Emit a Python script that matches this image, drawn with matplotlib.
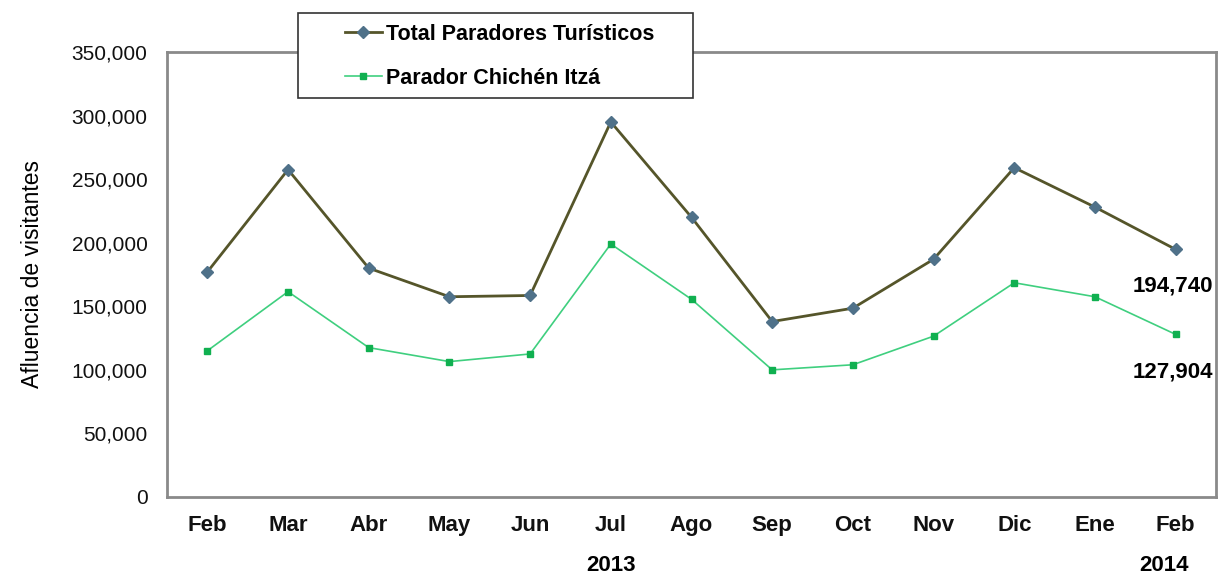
import numpy as np
import matplotlib.pyplot as plt
from matplotlib.patches import Rectangle
from matplotlib.ticker import FuncFormatter

months = ["Feb", "Mar", "Abr", "May", "Jun", "Jul", "Ago", "Sep", "Oct", "Nov", "Dic", "Ene", "Feb"]
total_paradores = [177000, 257500, 180000, 157500, 158500, 295000, 220000, 138000, 148500, 187000, 259000, 228000, 194740]
chichen_itza = [115000, 161500, 117500, 106500, 112500, 199000, 155500, 100000, 104000, 126500, 168500, 157500, 127904]

plt.rcParams["font.family"] = ["Liberation Sans", "DejaVu Sans"]

W, H = 1220, 576
fig = plt.figure(figsize=(W / 100, H / 100), dpi=100)
ax = fig.add_axes([167 / W, 1 - 497 / H, (1216 - 167) / W, (497 - 52) / H])

x = np.arange(len(months))
ax.plot(x, total_paradores, color="#55552a", lw=2, marker="D", ms=6,
        mfc="#4f7189", mec="#4f7189", label="Total Paradores Turísticos")
ax.plot(x, chichen_itza, color="#3fcf7f", lw=1.2, marker="s", ms=5,
        mfc="#10b050", mec="#10b050", label="Parador Chichén Itzá")

ax.set_xlim(-0.5, len(months) - 0.5)
ax.set_ylim(0, 350000)
ax.set_yticks(np.arange(0, 350001, 50000))
ax.yaxis.set_major_formatter(FuncFormatter(lambda v, p: f"{int(v):,}"))
ax.set_xticks(x)
ax.set_xticklabels(months, fontweight="bold")
ax.tick_params(axis="both", length=0, colors="#111111")
ax.tick_params(axis="y", labelsize=15, pad=14)
ax.tick_params(axis="x", labelsize=16, pad=13)
for s in ax.spines.values():
    s.set_color("#8a8a8a")
    s.set_linewidth(2)

ax.set_ylabel("Afluencia de visitantes", fontsize=16.5, labelpad=20)

# etiquetas del ultimo mes
ax.annotate(f"{total_paradores[-1]:,}", (x[-1], total_paradores[-1]), xytext=(-2, -26),
            textcoords="offset points", ha="center", va="center", fontsize=16, fontweight="bold")
ax.annotate(f"{chichen_itza[-1]:,}", (x[-1], chichen_itza[-1]), xytext=(-2, -27),
            textcoords="offset points", ha="center", va="center", fontsize=16, fontweight="bold")

# años
ax.text(5, -0.153, "2013", transform=ax.get_xaxis_transform(), ha="center", va="center",
        fontsize=16, fontweight="bold")
ax.text(11.85, -0.153, "2014", transform=ax.get_xaxis_transform(), ha="center", va="center",
        fontsize=16, fontweight="bold")

# cuadro de la leyenda
box = Rectangle((298 / W, 1 - 98 / H), (693 - 298) / W, (98 - 13) / H, transform=fig.transFigure,
                facecolor="white", edgecolor="#333333", lw=1.2, zorder=4)
fig.add_artist(box)
leg = fig.legend(loc="upper left", bbox_to_anchor=(345 / W, 1 - 24 / H), frameon=False,
                 prop={"weight": "bold", "size": 15.5},
                 handlelength=1.7, borderpad=0, labelspacing=1.05, handletextpad=0.2,
                 borderaxespad=0)
leg.set_zorder(5)

fig.savefig("out.png", dpi=100)
